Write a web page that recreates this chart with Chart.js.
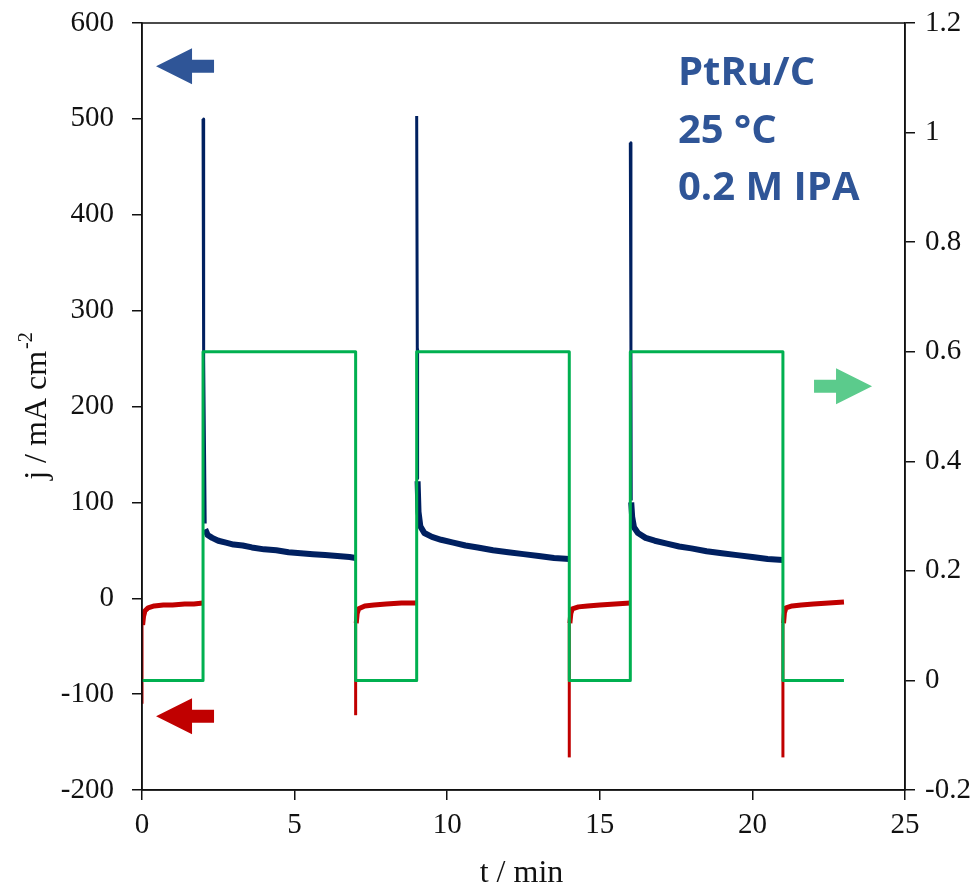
<!DOCTYPE html>
<html lang="en">
<head>
  <meta charset="UTF-8">
  <title>PtRu/C chronoamperometry</title>
  <script src="https://cdn.jsdelivr.net/npm/chart.js"></script>
  <style>
    body { margin: 0; background: #fff; }
    #wrap { width: 975px; height: 886px; }
  </style>
</head>
<body>
  <div id="wrap"><canvas id="chart" width="975" height="886"></canvas></div>

  <script>
    // Potential program (right axis, V) - square wave
    const potT = [0, 2, 2, 7, 7, 9, 9, 14, 14, 16, 16, 21, 21, 23];
    const potV = [0, 0, 0.6, 0.6, 0, 0, 0.6, 0.6, 0, 0, 0.6, 0.6, 0, 0];

    // Anodic current spikes (thin vertical part) and decays, mA cm-2
    const spike1T = [2, 2.02, 2.05, 2.07];
    const spike1J = [500, 250, 150, 78];
    const spike2T = [9, 9.02, 9.03];
    const spike2J = [503, 260, 125];
    const spike3T = [16, 16.02, 16.03];
    const spike3J = [475, 260, 102];

    const decay1T = [2.07, 2.15, 2.3, 2.5, 2.75, 3.0, 3.3, 3.6, 4.0, 4.4, 4.8, 5.2, 5.6, 6.0, 6.4, 6.8, 7.0];
    const decay1J = [72, 66, 63, 60, 58, 56, 55, 53, 51, 50, 48, 47, 46, 45, 44, 43, 42];
    const decay2T = [9.03, 9.06, 9.12, 9.25, 9.5, 9.8, 10.2, 10.6, 11.0, 11.5, 12.0, 12.5, 13.0, 13.5, 14.0];
    const decay2J = [122, 90, 75, 68, 64, 61, 58, 55, 53, 50, 48, 46, 44, 42, 41];
    const decay3T = [16.03, 16.06, 16.12, 16.25, 16.5, 16.8, 17.2, 17.6, 18.0, 18.5, 19.0, 19.5, 20.0, 20.5, 21.0];
    const decay3J = [100, 85, 74, 68, 63, 60, 57, 54, 52, 49, 47, 45, 43, 41, 40];

    // Cathodic current (red): spike down at each switch, then near zero
    const redSpikeT = [[0, 0], [7, 7], [14, 14], [21, 21]];
    const redSpikeJ = [[-110, -28], [-122, -26], [-166, -26], [-166, -26]];

    const red1T = [0.02, 0.05, 0.1, 0.2, 0.4, 0.7, 1.0, 1.4, 1.7, 2.0];
    const red1J = [-28, -19, -13, -10, -8, -7, -7, -6, -6, -5];
    const red2T = [7.02, 7.05, 7.1, 7.3, 7.6, 8.0, 8.5, 9.0];
    const red2J = [-26, -16, -11, -8, -7, -6, -5, -5];
    const red3T = [14.02, 14.05, 14.1, 14.3, 14.6, 15.0, 15.5, 16.0];
    const red3J = [-26, -16, -11, -9, -8, -7, -6, -5];
    const red4T = [21.02, 21.05, 21.1, 21.3, 21.6, 22.0, 22.5, 23.0];
    const red4J = [-26, -15, -10, -8, -7, -6, -5, -4];

    // Axis ticks
    const xTicks = [0, 5, 10, 15, 20, 25];
    const jTicks = [-200, -100, 0, 100, 200, 300, 400, 500, 600];
    const eTicks = [-0.2, 0, 0.2, 0.4, 0.6, 0.8, 1, 1.2];

    const labelLines = ["PtRu/C", "25 \u00B0C", "0.2 M IPA"];

    const NAVY = "#002060", RED = "#C00000", GREEN = "#00B050";
    const tickFont = { family: "'Liberation Serif', 'Times New Roman', serif", size: 29 };

    function pts(ts, vs) { return ts.map((t, i) => ({ x: t, y: vs[i] })); }

    function line(data, color, width, axis) {
      return {
        data: data, yAxisID: axis || "y",
        borderColor: color, borderWidth: width,
        pointRadius: 0, showLine: true, fill: false,
        borderJoinStyle: "round", tension: 0
      };
    }

    const datasets = [
      line(pts(potT, potV), GREEN, 3, "y1"),
      line(pts(spike1T, spike1J), NAVY, 3),
      line(pts(spike2T, spike2J), NAVY, 3),
      line(pts(spike3T, spike3J), NAVY, 3),
      line(pts(decay1T, decay1J), NAVY, 6),
      line(pts(decay2T, decay2J), NAVY, 6),
      line(pts(decay3T, decay3J), NAVY, 6),
      line(pts(red1T, red1J), RED, 5),
      line(pts(red2T, red2J), RED, 5),
      line(pts(red3T, red3J), RED, 5),
      line(pts(red4T, red4J), RED, 5)
    ];
    redSpikeT.forEach((ts, i) => datasets.push(line(pts(ts, redSpikeJ[i]), RED, 3)));

    function arrow(ctx, tipX, y, dir, color) {
      // dir -1: points left, +1: points right
      const head = 36, half = 18, shaft = 6.5, tail = 58;
      ctx.save();
      ctx.fillStyle = color;
      ctx.beginPath();
      ctx.moveTo(tipX, y);
      ctx.lineTo(tipX - dir * head, y - half);
      ctx.lineTo(tipX - dir * head, y - shaft);
      ctx.lineTo(tipX - dir * tail, y - shaft);
      ctx.lineTo(tipX - dir * tail, y + shaft);
      ctx.lineTo(tipX - dir * head, y + shaft);
      ctx.lineTo(tipX - dir * head, y + half);
      ctx.closePath();
      ctx.fill();
      ctx.restore();
    }

    const decor = {
      id: "decor",
      afterDraw(chart) {
        const ctx = chart.ctx, a = chart.chartArea;
        const x = chart.scales.x, y = chart.scales.y, y1 = chart.scales.y1;

        // plot frame
        ctx.save();
        ctx.strokeStyle = "#111";
        ctx.lineWidth = 1.5;
        ctx.strokeRect(a.left, a.top, a.right - a.left, a.bottom - a.top);
        ctx.restore();

        // arrows pointing to the axes
        arrow(ctx, x.getPixelForValue(0.46), y.getPixelForValue(555), -1, "#2F5597");
        arrow(ctx, x.getPixelForValue(0.46), y.getPixelForValue(-123), -1, RED);
        arrow(ctx, x.getPixelForValue(23.92), y1.getPixelForValue(0.537), 1, "#5BCB8C");

        // condition label
        ctx.save();
        ctx.fillStyle = "#2F5597";
        ctx.font = "bold 40px 'Open Sans', 'Liberation Sans', sans-serif";
        ctx.textBaseline = "alphabetic";
        ctx.textAlign = "left";
        const lx = x.getPixelForValue(17.56), ly = y.getPixelForValue(535);
        labelLines.forEach((s, i) => ctx.fillText(s, lx, ly + i * 57.5));
        ctx.restore();

        // axis titles
        ctx.save();
        ctx.fillStyle = "#111";
        ctx.font = "32px 'Liberation Serif', serif";
        ctx.textAlign = "center";
        ctx.textBaseline = "alphabetic";
        ctx.fillText("t / min", (a.left + a.right) / 2 - 2, 882);

        ctx.translate(46, 407);
        ctx.rotate(-Math.PI / 2);
        const main = "j / mA cm", sup = "-2";
        const wMain = ctx.measureText(main).width;
        ctx.font = "20px 'Liberation Serif', serif";
        const wSup = ctx.measureText(sup).width;
        const start = -(wMain + wSup) / 2;
        ctx.textAlign = "left";
        ctx.font = "32px 'Liberation Serif', serif";
        ctx.fillText(main, start, 0);
        ctx.font = "20px 'Liberation Serif', serif";
        ctx.fillText(sup, start + wMain + 2, -14);
        ctx.restore();
      }
    };

    function axisCommon(ticksList, pad) {
      return {
        ticks: {
          font: tickFont, color: "#111", padding: pad,
          callback: v => String(Math.round(v * 1000) / 1000)
        },
        afterBuildTicks: s => { s.ticks = ticksList.map(v => ({ value: v })); },
        grid: { drawOnChartArea: false, drawTicks: true, tickLength: 10, color: "#111", lineWidth: 1.5 },
        border: { display: true, color: "#111", width: 1.5 }
      };
    }

    function noPad(s) {
      s.paddingTop = 0; s.paddingBottom = 0; s.paddingLeft = 0; s.paddingRight = 0;
    }

    new Chart(document.getElementById("chart"), {
      type: "scatter",
      data: { datasets: datasets },
      plugins: [decor],
      options: {
        responsive: false,
        animation: false,
        layout: { padding: { top: 23, left: 0, right: 0, bottom: 0 } },
        plugins: { legend: { display: false }, tooltip: { enabled: false } },
        scales: {
          x: Object.assign(axisCommon(xTicks, 8), {
            type: "linear", position: "bottom", min: 0, max: 25,
            afterFit: s => { s.height = 96; noPad(s); }
          }),
          y: Object.assign(axisCommon(jTicks, 18), {
            type: "linear", position: "left", min: -200, max: 600,
            afterFit: s => { s.width = 142; noPad(s); }
          }),
          y1: Object.assign(axisCommon(eTicks, 10), {
            type: "linear", position: "right", min: -0.2, max: 1.2,
            afterFit: s => { s.width = 70; noPad(s); }
          })
        }
      }
    });
  </script>
</body>
</html>
